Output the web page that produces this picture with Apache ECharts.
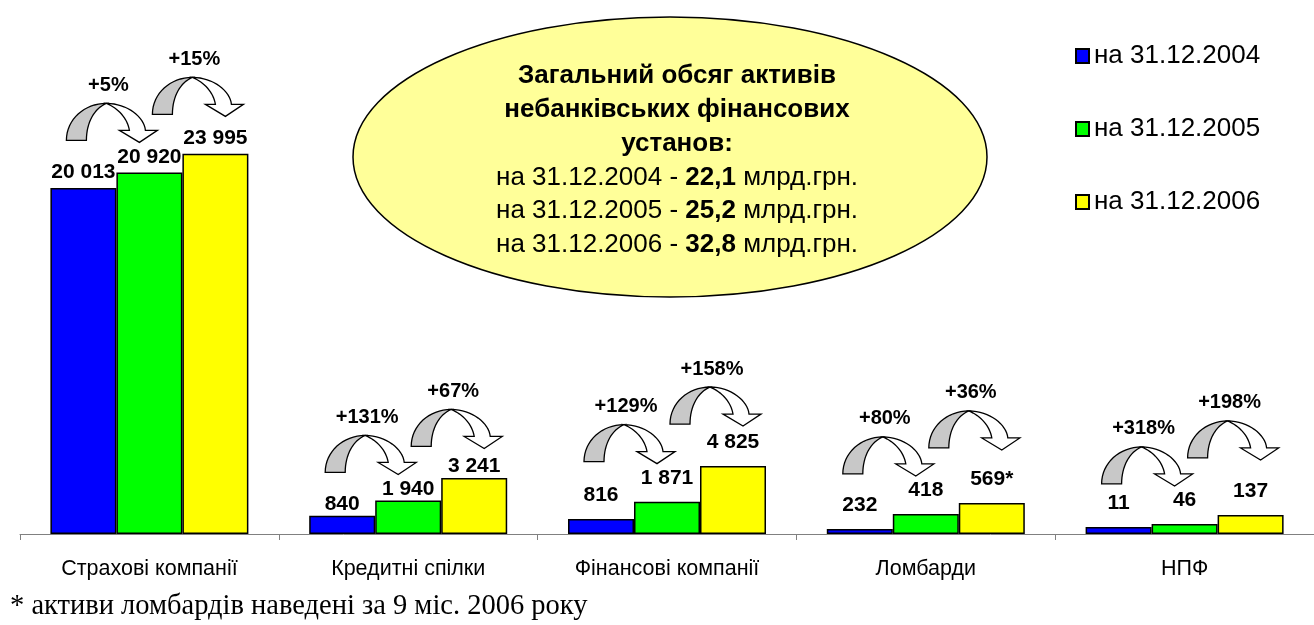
<!DOCTYPE html>
<html>
<head>
<meta charset="utf-8">
<script src="https://cdn.jsdelivr.net/npm/echarts@6/dist/echarts.min.js"></script>
<style>
  html, body { margin: 0; padding: 0; background: #fff; }
  #chart { width: 1314px; height: 625px; }
</style>
</head>
<body>
<div id="chart"></div>
<script>
const categories = ["Страхові компанії", "Кредитні спілки", "Фінансові компанії", "Ломбарди", "НПФ"];
const seriesNames = ["на 31.12.2004", "на 31.12.2005", "на 31.12.2006"];

// bar heights as drawn in the picture
const bars2004 = [20013, 1050, 870, 290, 400];
const bars2005 = [20920, 1940, 1871, 1160, 580];
const bars2006 = [22000, 3241, 3930, 1790, 1100];

// printed values above the bars
const labels2004 = ["20 013", "840", "816", "232", "11"];
const labels2005 = ["20 920", "1 940", "1 871", "418", "46"];
const labels2006 = ["23 995", "3 241", "4 825", "569*", "137"];

// growth shown over the arrows
const growth2005 = ["+5%", "+131%", "+129%", "+80%", "+318%"];
const growth2006 = ["+15%", "+67%", "+158%", "+36%", "+198%"];

const totalDates = ["31.12.2004", "31.12.2005", "31.12.2006"];
const totals = ["22,1", "25,2", "32,8"];

const colors = ["#0000ff", "#00ff00", "#ffff00"];
const FONT = "'Liberation Sans', Arial, sans-serif";
const labelLift = [5, 1, 13, 13, 13];

const chart = echarts.init(document.getElementById("chart"));

function makeSeries(name, values, labels, idx) {
  return {
    name: name,
    type: "bar",
    barWidth: 66,
    barGap: "0%",
    itemStyle: { color: colors[idx], borderColor: "#000", borderWidth: 1.5 },
    label: {
      show: true,
      position: "top",
      color: "#000",
      fontFamily: FONT,
      fontWeight: "bold",
      fontSize: 21,
      formatter: p => labels[p.dataIndex]
    },
    data: values.map((v, i) => ({ value: v, label: { distance: labelLift[i] } }))
  };
}

chart.setOption({
  animation: false,
  color: colors,
  legend: {
    orient: "vertical",
    left: 1070,
    top: 38,
    itemWidth: 13,
    itemHeight: 14,
    itemGap: 47,
    icon: "rect",
    textStyle: { fontFamily: FONT, fontSize: 26, color: "#000", lineHeight: 26 },
    data: seriesNames
  },
  grid: { left: 20, top: 50, width: 1300, height: 484 },
  xAxis: {
    type: "category",
    data: categories,
    axisLine: { lineStyle: { color: "#808080", width: 1 } },
    axisTick: { show: true, length: 6, lineStyle: { color: "#808080" } },
    axisLabel: { color: "#000", fontFamily: FONT, fontSize: 21.5, margin: 24, interval: 0 }
  },
  yAxis: {
    type: "value",
    min: 0,
    max: 28000,
    show: false,
    splitLine: { show: false }
  },
  series: [
    makeSeries(seriesNames[0], bars2004, labels2004, 0),
    makeSeries(seriesNames[1], bars2005, labels2005, 1),
    makeSeries(seriesNames[2], bars2006, labels2006, 2)
  ]
});

// curved arrows drawn as polygons sampled from bezier segments
function cubic(p0, p1, p2, p3, n) {
  const pts = [];
  for (let k = 1; k <= n; k++) {
    const t = k / n, u = 1 - t;
    pts.push([
      u * u * u * p0[0] + 3 * u * u * t * p1[0] + 3 * u * t * t * p2[0] + t * t * t * p3[0],
      u * u * u * p0[1] + 3 * u * u * t * p1[1] + 3 * u * t * t * p2[1] + t * t * t * p3[1]
    ]);
  }
  return pts;
}

const backPts = [[0, 0]]
  .concat(cubic([0, 0], [0, -21], [18, -37], [40, -37], 16))
  .concat(cubic([40, -37], [28, -32], [20, -18], [20, 0], 16));
const frontPts = [[40, -37]]
  .concat(cubic([40, -37], [61, -37], [78, -23], [79, -10], 16))
  .concat([[91, -10], [73, 2], [53, -10], [63, -10]])
  .concat(cubic([63, -10], [61, -22], [52, -32], [40, -37], 16));

function arrow(x, y) {
  return {
    type: "group",
    x: x,
    y: y,
    children: [
      { type: "polygon", shape: { points: backPts }, style: { fill: "#c8c8c8", stroke: "#000", lineWidth: 1.3 } },
      { type: "polygon", shape: { points: frontPts }, style: { fill: "#fff", stroke: "#000", lineWidth: 1.3 } }
    ]
  };
}

function pctText(text, x, y) {
  return {
    type: "text",
    x: x,
    y: y,
    style: {
      text: text, fill: "#000", font: "bold 20px " + FONT,
      align: "center", verticalAlign: "middle", textAlign: "center", textVerticalAlign: "middle"
    }
  };
}

function barLayout(s, i) {
  const l = chart.getModel().getSeriesByIndex(s).getData().getItemLayout(i);
  return { cx: l.x + l.width / 2, top: Math.min(l.y, l.y + l.height) };
}

const graphics = [];

// callout ellipse
graphics.push({
  type: "ellipse",
  shape: { cx: 670, cy: 157, rx: 317, ry: 140 },
  style: { fill: "#ffff99", stroke: "#000", lineWidth: 1.5 }
});
const boxLines = [
  { t: "Загальний обсяг активів", bold: true },
  { t: "небанківських фінансових", bold: true },
  { t: "установ:", bold: true }
];
totalDates.forEach((d, k) => {
  boxLines.push({ t: "на " + d + " - {b|" + totals[k] + "} млрд.грн.", bold: false });
});
boxLines.forEach((l, k) => {
  graphics.push({
    type: "text",
    x: 677,
    y: 76 + k * 33.8,
    style: {
      text: l.t,
      fill: "#000",
      font: (l.bold ? "bold " : "") + "26px " + FONT,
      align: "center", verticalAlign: "middle", textAlign: "center", textVerticalAlign: "middle",
      rich: { b: { fontWeight: "bold", fontSize: 26, fontFamily: FONT, fill: "#000" } }
    }
  });
});

// arrows and growth labels
categories.forEach((c, i) => {
  const b0 = barLayout(0, i), b1 = barLayout(1, i), b2 = barLayout(2, i);
  const lt1 = b1.top - labelLift[i] - 21;
  const lt2 = b2.top - labelLift[i] - 21;
  const base1 = lt1 - 6;
  const base2 = Math.min(base1 - 26, lt2 - 8);
  const x1 = b0.cx - 17, x2 = b1.cx + 3;
  graphics.push(arrow(x1, base1));
  graphics.push(arrow(x2, base2));
  graphics.push(pctText(growth2005[i], x1 + 42, base1 - 37 - 18));
  graphics.push(pctText(growth2006[i], x2 + 42, base2 - 37 - 18));
});

// footnote
graphics.push({
  type: "text",
  x: 10,
  y: 607,
  style: {
    text: "* активи ломбардів наведені за 9 міс. 2006 року",
    fill: "#000",
    font: "28.5px 'Liberation Serif', 'Times New Roman', serif",
    verticalAlign: "middle", textVerticalAlign: "middle"
  }
});

chart.setOption({ graphic: graphics });
</script>
</body>
</html>
